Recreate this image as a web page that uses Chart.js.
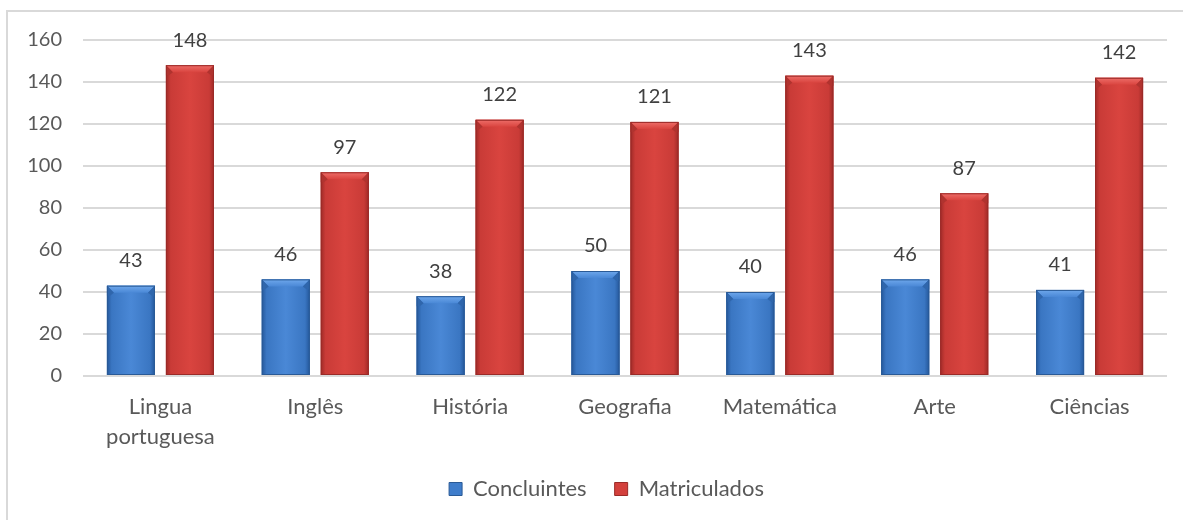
<!DOCTYPE html>
<html><head><meta charset="utf-8">
<script src="https://cdn.jsdelivr.net/npm/chart.js@4/dist/chart.umd.min.js"></script>
<style>
html,body{margin:0;padding:0;background:#fff;overflow:hidden}
#frame{position:absolute;left:6px;top:10px;width:1200px;height:530px;border-left:2px solid #d9d9d9;border-top:2px solid #d9d9d9}
#wrap{position:absolute;left:0;top:0;width:1183px;height:520px}
</style></head>
<body><div id="frame"></div><div id="wrap"><canvas id="c" width="1183" height="520"></canvas></div>
<script>
const categories = [['Lingua','portuguesa'], 'Inglês', 'História', 'Geografia', 'Matemática', 'Arte', 'Ciências'];
const concluintes = [43, 46, 38, 50, 40, 46, 41];
const matriculados = [148, 97, 122, 121, 143, 87, 142];
const seriesNames = ['Concluintes', 'Matriculados'];
const yTicks = [0, 20, 40, 60, 80, 100, 120, 140, 160];

const FONT = 'Lato, "Open Sans", sans-serif';
const palettes = [
  {base:'#3F7DCB', edge:'#24579A', mid:'#3A76C2', center:'#4A88D6', top:'#6FA8EC', side:'#2F66AC', outline:'#2A5A96'},
  {base:'#D3403C', edge:'#9E2A27', mid:'#C93B37', center:'#D9443F', top:'#EE6E69', side:'#B0332F', outline:'#9A2B28'}
];

const bevelPlugin = {
  id: 'bevel',
  afterLayout(chart) {
    const lg = chart.legend;
    if (lg) { lg.left += 23; lg.right += 23; }
  },
  afterDatasetsDraw(chart) {
    const ctx = chart.ctx;
    ctx.save();
    chart.data.datasets.forEach((ds, di) => {
      const meta = chart.getDatasetMeta(di);
      if (meta.hidden) return;
      const pal = palettes[di];
      meta.data.forEach((bar, i) => {
        const {x, y, base, width} = bar.getProps(['x', 'y', 'base', 'width'], true);
        const l = x - width / 2, r = x + width / 2, h = base - y;
        const g = ctx.createLinearGradient(l, 0, r, 0);
        g.addColorStop(0, pal.edge);
        g.addColorStop(0.1, pal.mid);
        g.addColorStop(0.5, pal.center);
        g.addColorStop(0.9, pal.mid);
        g.addColorStop(1, pal.edge);
        ctx.fillStyle = g;
        ctx.fillRect(l, y, width, h);
        const b = Math.min(7, h / 2);
        const tg = ctx.createLinearGradient(0, y, 0, y + b);
        tg.addColorStop(0, pal.top);
        tg.addColorStop(1, pal.center);
        ctx.beginPath();
        ctx.moveTo(l, y); ctx.lineTo(r, y); ctx.lineTo(r - b, y + b); ctx.lineTo(l + b, y + b); ctx.closePath();
        ctx.fillStyle = tg; ctx.fill();
        ctx.beginPath();
        ctx.moveTo(l, y); ctx.lineTo(l + b, y + b); ctx.lineTo(l + 3, y + b + 3); ctx.lineTo(l, y + b + 3); ctx.closePath();
        ctx.fillStyle = pal.side; ctx.fill();
        ctx.beginPath();
        ctx.moveTo(r, y); ctx.lineTo(r - b, y + b); ctx.lineTo(r - 3, y + b + 3); ctx.lineTo(r, y + b + 3); ctx.closePath();
        ctx.fillStyle = pal.side; ctx.fill();
        ctx.strokeStyle = pal.outline; ctx.lineWidth = 1;
        ctx.strokeRect(l + 0.5, y + 0.5, width - 1, h - 1);
        ctx.fillStyle = '#404040';
        ctx.font = '20px ' + FONT;
        ctx.textAlign = 'center';
        ctx.textBaseline = 'middle';
        ctx.fillText(String(ds.data[i]), x, y - 25);
      });
    });
    ctx.restore();
  }
};

new Chart(document.getElementById('c'), {
  type: 'bar',
  data: {
    labels: categories,
    datasets: [
      {label: seriesNames[0], data: concluintes, backgroundColor: palettes[0].base, borderWidth: 0},
      {label: seriesNames[1], data: matriculados, backgroundColor: palettes[1].base, borderWidth: 0}
    ]
  },
  options: {
    responsive: false,
    animation: false,
    devicePixelRatio: 1,
    categoryPercentage: 0.762,
    barPercentage: 0.814,
    layout: {padding: {left: 0, right: 16, top: 40, bottom: 10}},
    plugins: {
      tooltip: {enabled: false},
      legend: {
        position: 'bottom',
        labels: {
          boxWidth: 13, boxHeight: 13, padding: 28,
          color: '#595959',
          font: {family: FONT, size: 22},
          generateLabels(chart) {
            return chart.data.datasets.map((ds, i) => ({
              text: ds.label, fillStyle: palettes[i].base, strokeStyle: palettes[i].outline,
              lineWidth: 1, fontColor: '#595959', datasetIndex: i, hidden: false
            }));
          }
        }
      }
    },
    scales: {
      x: {
        grid: {display: false, drawTicks: false},
        border: {display: false},
        ticks: {color: '#595959', font: {family: FONT, size: 22, lineHeight: 30 / 22}, padding: 16, maxRotation: 0, autoSkip: false},
        afterFit(s) { s.height = 74; }
      },
      y: {
        min: 0, max: 160,
        afterBuildTicks(s) { s.ticks = yTicks.map(v => ({value: v})); },
        grid: {color: '#D9D9D9', lineWidth: 2, drawTicks: false},
        border: {display: false},
        ticks: {color: '#595959', font: {family: FONT, size: 20}, padding: 21},
        afterFit(s) { s.width = 83; }
      }
    }
  },
  plugins: [bevelPlugin]
});
</script>
</body></html>
